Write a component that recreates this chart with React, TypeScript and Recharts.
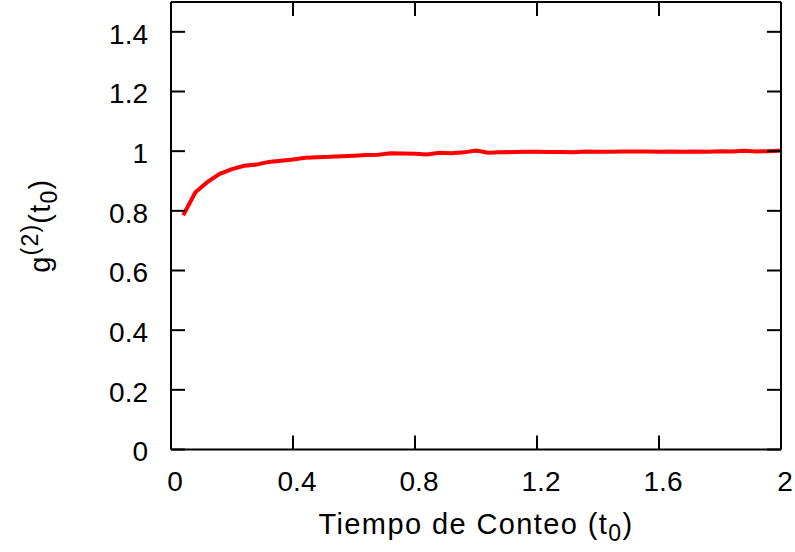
import React from "react";
import { LineChart, Line, XAxis, YAxis, Label } from "recharts";

// Counting-time axis (t0) and measured g2 values
const tValues = [
  0.04, 0.08, 0.12, 0.16, 0.2, 0.24, 0.28, 0.32, 0.36, 0.4,
  0.44, 0.48, 0.52, 0.56, 0.6, 0.64, 0.68, 0.72, 0.76, 0.8,
  0.84, 0.88, 0.92, 0.96, 1.0, 1.04, 1.08, 1.12, 1.16, 1.2,
  1.24, 1.28, 1.32, 1.36, 1.4, 1.44, 1.48, 1.52, 1.56, 1.6,
  1.64, 1.68, 1.72, 1.76, 1.8, 1.84, 1.88, 1.92, 1.96, 2.0,
];
const g2Values = [
  0.785, 0.862, 0.897, 0.924, 0.94, 0.951, 0.955, 0.964, 0.968, 0.972,
  0.978, 0.98, 0.981, 0.983, 0.985, 0.987, 0.988, 0.993, 0.992, 0.991,
  0.989, 0.995, 0.993, 0.996, 1.002, 0.995, 0.996, 0.997, 0.998, 0.998,
  0.997, 0.997, 0.996, 0.999, 0.998, 0.998, 0.999, 0.999, 0.999, 0.998,
  0.999, 0.998, 0.999, 0.998, 1.0, 0.999, 1.001, 0.999, 1.0, 1.002,
];
const xTicks = [0, 0.4, 0.8, 1.2, 1.6, 2];
const xTickLabels = ["0", "0.4", "0.8", "1.2", "1.6", "2"];
const yTicks = [0, 0.2, 0.4, 0.6, 0.8, 1, 1.2, 1.4];
const yTickLabels = ["0", "0.2", "0.4", "0.6", "0.8", "1", "1.2", "1.4"];

const data = tValues.map((t, i) => ({ t, g2: g2Values[i] }));

const FONT = "'Liberation Sans', Arial, Helvetica, sans-serif";
const TICK_FONT = 28;

const XTick = (props: any) => {
  const { x, y, payload } = props;
  const idx = xTicks.indexOf(payload.value);
  return (
    <text x={x + 4} y={y} dy="0.71em" textAnchor="middle" fontSize={TICK_FONT} fontFamily={FONT} fill="#000">
      {idx >= 0 ? xTickLabels[idx] : String(payload.value)}
    </text>
  );
};

const YTick = (props: any) => {
  const { x, y, payload } = props;
  const idx = yTicks.findIndex((v) => Math.abs(v - payload.value) < 1e-9);
  return (
    <text x={x} y={y + 2} dy="0.355em" textAnchor="end" fontSize={TICK_FONT} fontFamily={FONT} fill="#000">
      {idx >= 0 ? yTickLabels[idx] : String(payload.value)}
    </text>
  );
};

const NoTick = () => <g />;

const XTitle = (props: any) => {
  const vb = props.viewBox || { x: 171, y: 449, width: 610, height: 103 };
  const cx = vb.x + vb.width / 2;
  return (
    <text x={cx} y={534} textAnchor="middle" fontSize={29} letterSpacing={1.4} fontFamily={FONT} fill="#000">
      Tiempo de Conteo (t<tspan dy={7} fontSize={23}>0</tspan>
      <tspan dy={-7}>)</tspan>
    </text>
  );
};

const YTitle = (props: any) => {
  const vb = props.viewBox || { x: 0, y: 2, width: 171, height: 447 };
  const cy = vb.y + vb.height / 2;
  const bx = 50;
  return (
    <text
      x={bx}
      y={cy}
      transform={`rotate(-90 ${bx} ${cy})`}
      textAnchor="middle"
      fontSize={29}
      letterSpacing={1.2}
      fontFamily={FONT}
      fill="#000"
    >
      g<tspan dy={-12} fontSize={23}>(2)</tspan>
      <tspan dy={12}>(t</tspan>
      <tspan dy={7} fontSize={23}>0</tspan>
      <tspan dy={-7}>)</tspan>
    </text>
  );
};

const axisLine = { stroke: "#000", strokeWidth: 2 };
const tickLine = { stroke: "#000", strokeWidth: 2 };

export default function App() {
  return (
    <div style={{ position: "absolute", left: 0, top: 0, background: "#fff" }}>
      <LineChart
        width={795}
        height={552}
        data={data}
        margin={{ top: 1, right: 13, left: 0, bottom: 0 }}
      >
        <XAxis
          dataKey="t"
          type="number"
          domain={[0, 2]}
          ticks={xTicks}
          interval={0}
          height={102.5}
          tickSize={-14}
          tickMargin={36}
          axisLine={axisLine}
          tickLine={tickLine}
          tick={<XTick />}
        >
          <Label content={<XTitle />} />
        </XAxis>
        <XAxis
          xAxisId="top"
          orientation="top"
          dataKey="t"
          type="number"
          domain={[0, 2]}
          ticks={xTicks}
          interval={0}
          height={1}
          tickSize={-14}
          axisLine={axisLine}
          tickLine={tickLine}
          tick={<NoTick />}
        />
        <YAxis
          type="number"
          domain={[0, 1.5]}
          ticks={yTicks}
          interval={0}
          width={171}
          tickSize={-14}
          tickMargin={37}
          axisLine={axisLine}
          tickLine={tickLine}
          tick={<YTick />}
        >
          <Label content={<YTitle />} />
        </YAxis>
        <YAxis
          yAxisId="right"
          orientation="right"
          type="number"
          domain={[0, 1.5]}
          ticks={yTicks}
          interval={0}
          width={1}
          tickSize={-14}
          axisLine={axisLine}
          tickLine={tickLine}
          tick={<NoTick />}
        />
        {/* invisible series bound to the mirrored frame axes */}
        <Line
          xAxisId="top"
          yAxisId="right"
          type="linear"
          dataKey="g2"
          stroke="none"
          dot={false}
          activeDot={false}
          legendType="none"
          isAnimationActive={false}
        />
        <Line
          type="linear"
          dataKey="g2"
          stroke="#ff0000"
          strokeWidth={4}
          dot={false}
          isAnimationActive={false}
        />
      </LineChart>
    </div>
  );
}
